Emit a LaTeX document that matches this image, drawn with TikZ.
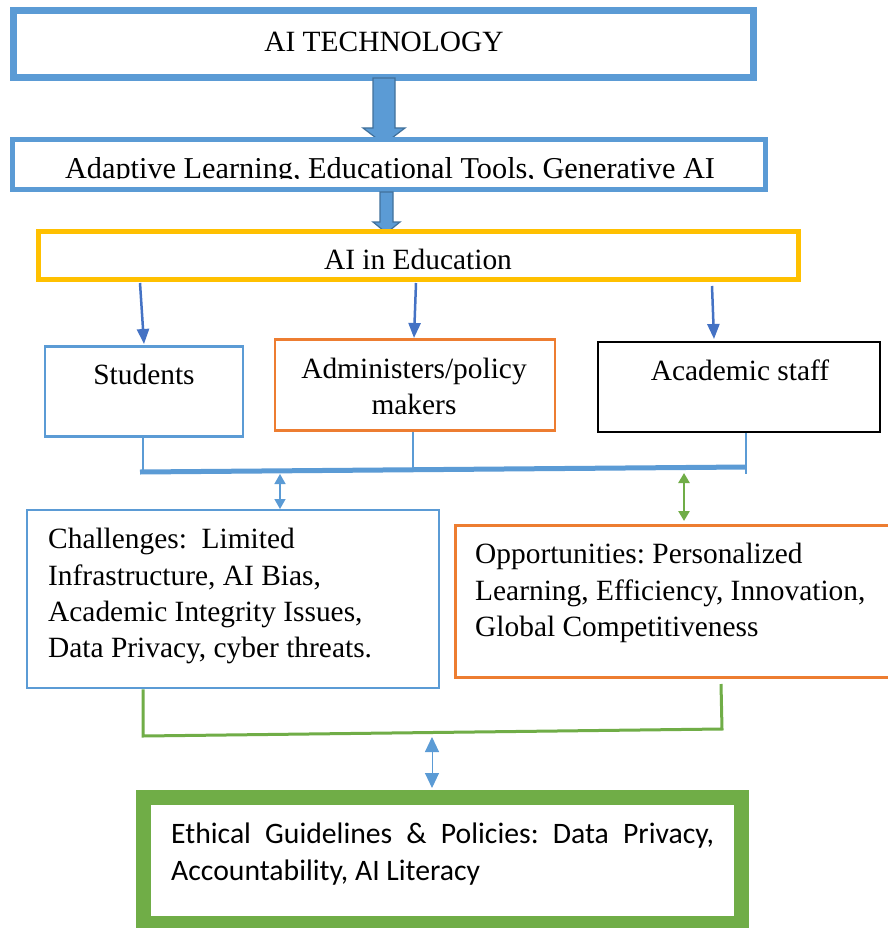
\documentclass[tikz,border=0pt]{standalone}
\usepackage{fontspec}
\setmainfont{Liberation Serif}
\newfontfamily\calibrifont{Carlito}
\usetikzlibrary{arrows.meta}
\definecolor{cblue}{HTML}{5B9BD5}
\definecolor{dblue}{HTML}{4472C4}
\definecolor{edgeblue}{HTML}{41719C}
\definecolor{cyel}{HTML}{FFC000}
\definecolor{corange}{HTML}{ED7D31}
\definecolor{cgreen}{HTML}{70AD47}
\frenchspacing
\tikzset{
  box/.style={draw, rectangle, inner sep=0pt, fill=white},
  txt/.style={inner sep=0pt, anchor=base, font=\fontsize{29.4}{36}\selectfont},
  txtl/.style={inner sep=0pt, anchor=base west, font=\fontsize{29.4}{36}\selectfont},
  blockarrow/.style={fill=cblue, draw=edgeblue, line width=1.2pt, line join=miter},
  thinarrow/.style={draw=dblue, line width=2.5pt, -{Triangle[length=15pt,width=12pt]}},
  bus/.style={draw=cblue, line width=2.5pt},
  gbus/.style={draw=cgreen, line width=3pt},
}
\begin{document}
\begin{tikzpicture}[x=1pt,y=-1pt]
\useasboundingbox (0,0) rectangle (887,928);
\fill[white] (0,0) rectangle (887,928);

% top box
\node[box, draw=cblue, line width=7pt, minimum width=740pt, minimum height=67pt] (tech) at (383.5,44) {};
\node[txt] (techt) at (384,52) {AI TECHNOLOGY};

% block arrow 1
\draw[blockarrow] (373,78) -- (395,78) -- (395,128) -- (405,128) -- (384,144) -- (363,128) -- (373,128) -- cycle;

% adaptive box
\node[box, draw=cblue, line width=5.5pt, minimum width=753pt, minimum height=50pt] (adapt) at (389,164.5) {};
\begin{scope}
\clip (16,142) rectangle (762,179);
\node[txt, font=\fontsize{30.3}{36}\selectfont] (adaptt) at (390,178.5) {Adaptive Learning, Educational Tools, Generative AI};
\end{scope}

% block arrow 2
\draw[blockarrow] (380,192) -- (393,192) -- (393,222) -- (400,222) -- (386.5,233) -- (373,222) -- (380,222) -- cycle;

% AI in Education
\node[box, draw=cyel, line width=5pt, minimum width=760pt, minimum height=48pt] (edu) at (418.5,255.5) {};
\node[txt] (edut) at (418,269) {AI in Education};

% three boxes
\node[box, draw=cblue, line width=2.5pt, minimum width=198pt, minimum height=90pt] (stud) at (144,391.5) {};
\node[txt] (studt) at (144,384) {Students};
\node[box, draw=corange, line width=2.5pt, minimum width=280pt, minimum height=91pt] (admin) at (415,385) {};
\node[txt] (admint1) at (414,378) {Administers/policy};
\node[txt] (admint2) at (414,414) {makers};
\node[box, draw=black, line width=2.5pt, minimum width=282pt, minimum height=90pt] (acad) at (739,387) {};
\node[txt] (acadt) at (740,380) {Academic staff};

% arrows from AI in Education
\coordinate (e1) at (140,283);
\coordinate (e2) at (416,283);
\coordinate (e3) at (712,286);
\draw[thinarrow] (e1) -- (144,344);
\draw[thinarrow] (e2) -- (414,338);
\draw[thinarrow] (e3) -- (714,339);

% bus below the three boxes
\coordinate (b1) at (143,472);
\coordinate (b2) at (413,469.5);
\coordinate (b3) at (746,467);
\draw[bus] (stud.south -| b1) -- (b1);
\draw[bus] (admin.south -| b2) -- (b2);
\draw[bus] (acad.south -| b3) -- (746,474);
\draw[draw=cblue, line width=5pt] (140,472) -- (b3);

% challenges & opportunities
\node[box, draw=cblue, line width=2.5pt, minimum width=412pt, minimum height=178pt] (chal) at (233,599) {};
\node[txtl] (chal1) at (48,548) {Challenges:\ \ Limited};
\node[txtl] (chal2) at (48,585) {Infrastructure, AI Bias,};
\node[txtl] (chal3) at (48,621) {Academic Integrity Issues,};
\node[txtl] (chal4) at (48,657) {Data Privacy, cyber threats.};
\node[box, draw=corange, line width=3pt, minimum width=440pt, minimum height=152pt] (opp) at (675,601) {};
\node[txtl] (opp1) at (475,563) {Opportunities: Personalized};
\node[txtl] (opp2) at (475,600) {Learning, Efficiency, Innovation,};
\node[txtl] (opp3) at (475,636) {Global Competitiveness};

% double arrows
\coordinate (d1a) at (280,474);
\coordinate (d1b) at (280,509);
\draw[draw=cblue, line width=1.5pt, {Triangle[length=10pt,width=11pt]}-{Triangle[length=10pt,width=11pt]}] (d1a) -- (d1b);
\coordinate (d2a) at (684,473);
\coordinate (d2b) at (684,521);
\draw[draw=cgreen, line width=2.5pt, {Triangle[length=10pt,width=11pt]}-{Triangle[length=10pt,width=11pt]}] (d2a) -- (d2b);

% green bus
\coordinate (g1) at (143,736);
\coordinate (g2) at (722,729);
\draw[gbus] (chal.south -| g1) -- (g1) -- (g2) -- (721,684);

% double arrow to ethics
\coordinate (d3a) at (432,737);
\coordinate (d3b) at (432,788);
\draw[draw=cblue, line width=1pt, {Triangle[length=15pt,width=14pt]}-{Triangle[length=15pt,width=14pt]}] (d3a) -- (d3b);

% ethics box
\node[box, draw=cgreen, line width=15pt, minimum width=598pt, minimum height=126pt] (eth) at (442.5,860) {};
\node[inner sep=0pt, anchor=base west, font=\calibrifont\fontsize{29.7}{37}\selectfont, align=left] (etht1) at (171,843) {\makebox[543pt][s]{Ethical Guidelines \& Policies: Data Privacy,}};
\node[inner sep=0pt, anchor=base west, font=\calibrifont\fontsize{29.7}{37}\selectfont] (etht2) at (171,880) {Accountability, AI Literacy};
\end{tikzpicture}
\end{document}
